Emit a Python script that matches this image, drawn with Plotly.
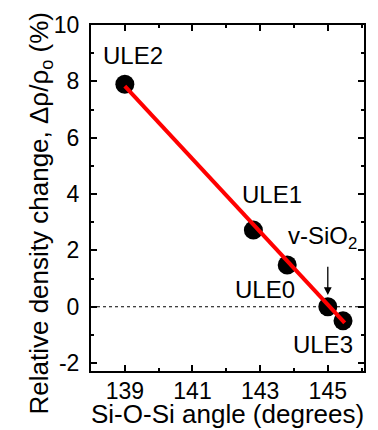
import plotly.graph_objects as go

# Sample data: Si-O-Si bond angle vs. relative density change
samples = ["ULE2", "ULE1", "ULE0", "v-SiO2", "ULE3"]
angle_deg = [139.0, 142.8, 143.8, 145.0, 145.45]
density_change = [7.9, 2.72, 1.48, 0.0, -0.5]

# Linear fit endpoints
fit_angle = [139.0, 145.5]
fit_density = [7.83, -0.57]

# Label anchor positions (data coordinates)
label_text = ["ULE2", "ULE1", "ULE0", "ULE3"]
label_x = [139.24, 143.34, 143.13, 144.87]
label_y = [8.90, 3.97, 0.63, -1.33]

x_ticks = [139, 141, 143, 145]
y_ticks = [-2, 0, 2, 4, 6, 8, 10]

FONT = "Liberation Sans, Arial, sans-serif"

fig = go.Figure()

fig.add_trace(go.Scatter(
    x=angle_deg, y=density_change, mode="markers",
    marker=dict(size=19, color="black"),
    showlegend=False, hoverinfo="skip",
))
fig.add_trace(go.Scatter(
    x=fit_angle, y=fit_density, mode="lines",
    line=dict(color="#ff0000", width=4),
    showlegend=False, hoverinfo="skip",
))

# Dashed zero reference line
fig.add_shape(type="line", xref="paper", x0=0, x1=1, yref="y", y0=0, y1=0,
              line=dict(color="black", width=1, dash="3px,3px"), layer="below")

for t, x, y in zip(label_text, label_x, label_y):
    fig.add_annotation(x=x, y=y, text=t, showarrow=False,
                       xanchor="center", yanchor="middle",
                       font=dict(family=FONT, size=24, color="black"))

fig.add_annotation(x=143.77, y=2.45, text="v-SiO<sub>2</sub>", showarrow=False,
                   xanchor="left", yanchor="middle",
                   font=dict(family=FONT, size=24, color="black"))

# Arrow pointing to v-SiO2
fig.add_annotation(x=145.0, y=0.42, ax=145.0, ay=1.47, xref="x", yref="y",
                   axref="x", ayref="y", text="", showarrow=True,
                   arrowhead=2, arrowsize=1.2, arrowwidth=1.3, arrowcolor="black")

# Axis titles
fig.add_annotation(xref="paper", yref="paper", x=-0.184, y=0.4545,
                   text="Relative density change, \u0394\u03c1/\u03c1<sub>o</sub> (%)",
                   textangle=-90, showarrow=False, xanchor="center", yanchor="middle",
                   font=dict(family=FONT, size=26, color="black"))
fig.add_annotation(xref="paper", yref="paper", x=0.5, y=-0.125,
                   text="Si-O-Si angle (degrees)", showarrow=False,
                   xanchor="center", yanchor="middle",
                   font=dict(family=FONT, size=26, color="black"))

axis_common = dict(
    showline=True, linecolor="black", linewidth=2, mirror="allticks",
    ticks="inside", ticklen=6, tickwidth=1.5, tickcolor="black",
    showgrid=False, zeroline=False,
    tickfont=dict(family=FONT, size=23, color="black"),
)

fig.update_xaxes(
    range=[138.0, 146.07], tickvals=x_ticks, ticktext=[str(v) for v in x_ticks],
    minor=dict(ticks="inside", ticklen=3, tickwidth=1.5, tickcolor="black",
               tickvals=[140, 142, 144, 146]),
    ticklabelstandoff=-2,
    **axis_common,
)
fig.update_yaxes(
    range=[-2.28, 10.0], tickvals=y_ticks, ticktext=[str(v) for v in y_ticks],
    minor=dict(ticks="inside", ticklen=3, tickwidth=1.5, tickcolor="black",
               tickvals=[-1, 1, 3, 5, 7, 9]),
    ticklabelstandoff=5,
    **axis_common,
)

fig.update_layout(
    width=378, height=430,
    margin=dict(l=91, r=12, t=19, b=59),
    paper_bgcolor="white", plot_bgcolor="white",
    font=dict(family=FONT, color="black"),
)

fig.write_html("out.html")
